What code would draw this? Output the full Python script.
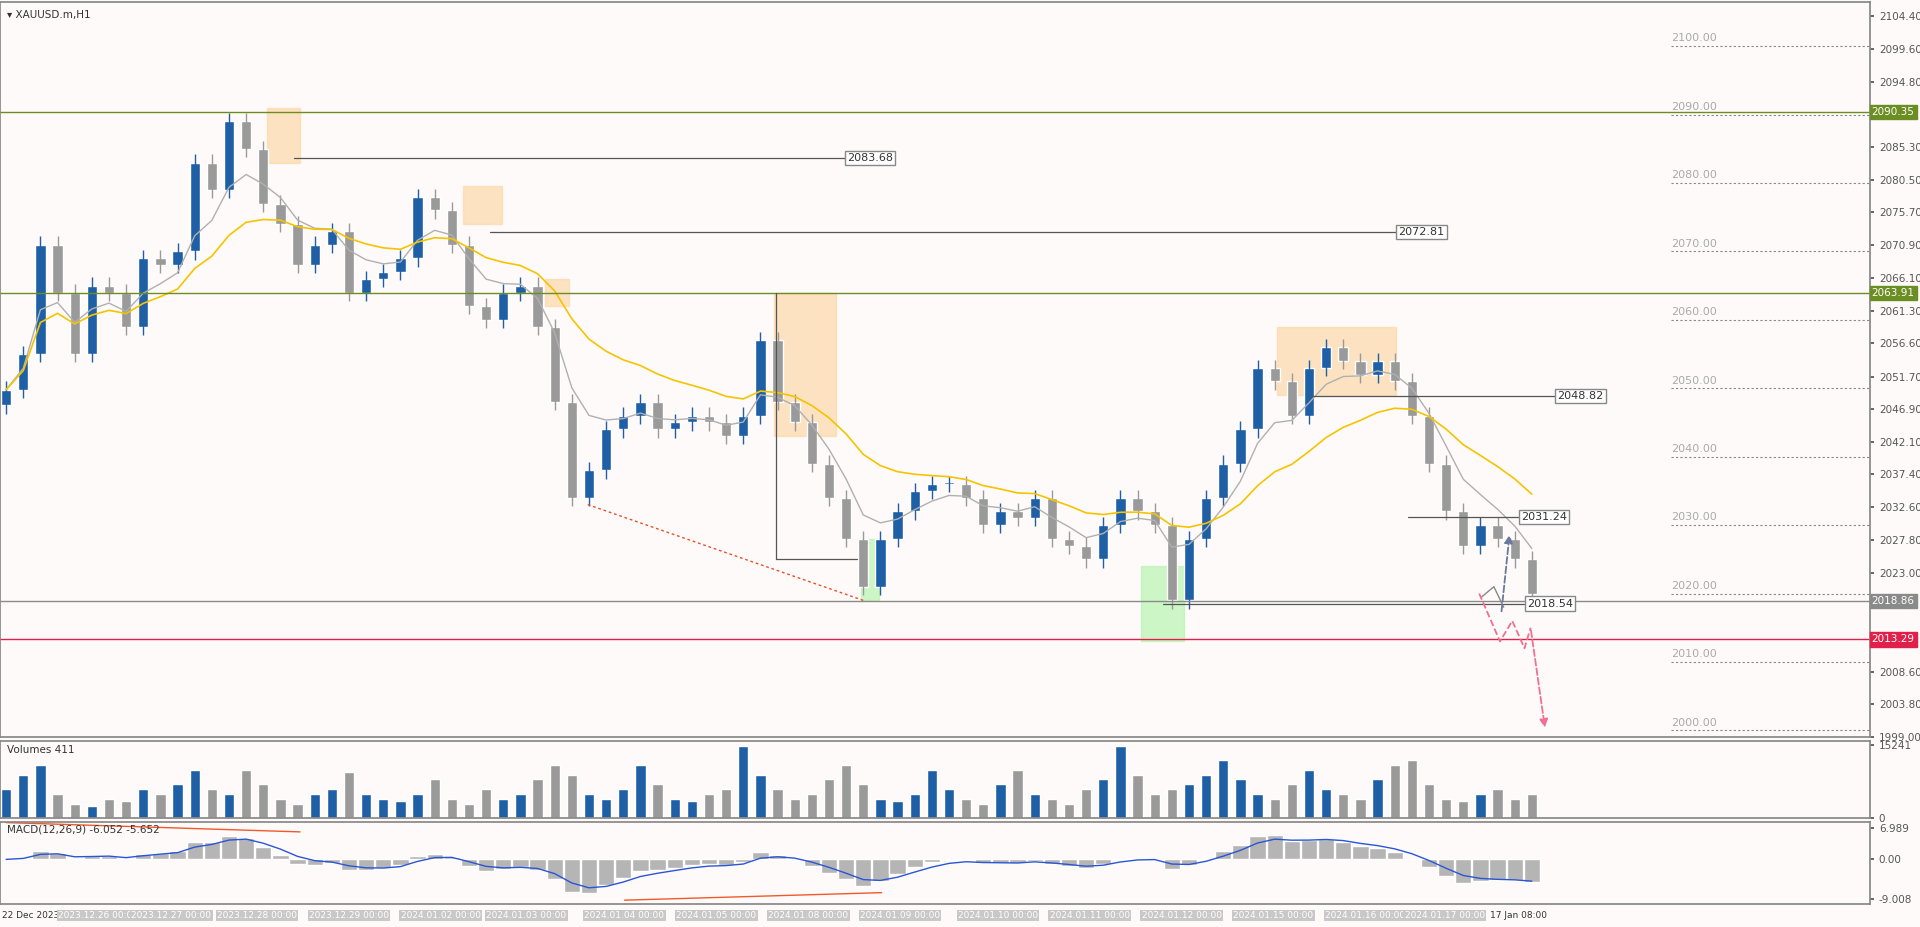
import numpy as np, pandas as pd, matplotlib
matplotlib.use("Agg")
import matplotlib.pyplot as plt, seaborn as sns
sns.set_theme(style="white")
plt.rcParams['font.family'] = ['DejaVu Sans']

closes = [2049.8,2055,2071,2064,2055,2065,2064,2059,2069,2068,2070,2083,2079,2089,2085,2077,2074,2068,2071,2073,
          2064,2066,2067,2069,2078,2076,2071,2062,2060,2064,2065,2059,2048,2034,2038,2044,2046,2048,2044,2045,
          2046,2045,2043,2046,2057,2048,2045,2039,2034,2028,2021,2028,2032,2035,2036,2036,2034,2030,2032,2031,
          2034,2028,2027,2025,2030,2034,2032,2030,2019,2028,2034,2039,2044,2053,2051,2046,2053,2056,2054,2052,
          2054,2051,2046,2039,2032,2027,2030,2028,2025,2020]
opens = [2047.5] + closes[:-1]
volumes = [6000,9000,11000,5000,3000,2500,4000,3500,6000,5000,7000,10000,6000,5000,10000,7000,4000,3000,5000,6000,
           9500,5000,4000,3500,5000,8000,4000,3000,6000,4000,5000,8000,11000,9000,5000,4000,6000,11000,7000,4000,
           3500,5000,6000,15000,9000,6000,4000,5000,8000,11000,7000,4000,3500,5000,10000,6000,4000,3000,7000,10000,
           5000,4000,3000,6000,8000,15000,9000,5000,6000,7000,9000,12000,8000,5000,4000,7000,10000,6000,5000,4000,
           8000,11000,12000,7000,4000,3500,5000,6000,4000,5000]
hlines = {"2090.35": (2090.35, "#6b8e23"), "2063.91": (2063.91, "#6b8e23"),
          "2018.86": (2018.86, "#8a8a8a"), "2013.29": (2013.29, "#e0204a")}
levels = [2083.68, 2072.81, 2048.82, 2031.24, 2018.54]
level_x = [(240, 720), (400, 1170), (1070, 1300), (1150, 1270), (950, 1275)]
axis_ticks = [2104.40,2099.60,2094.80,2085.30,2080.50,2075.70,2070.90,2066.10,2061.30,2056.60,2051.70,2046.90,
              2042.10,2037.40,2032.60,2027.80,2023.00,2008.60,2003.80,1999.00]
round_levels = [2100,2090,2080,2070,2060,2050,2040,2030,2020,2010,2000]
date_labels = ["22 Dec 2023","2023.12.26 00:00","2023.12.27 00:00","2023.12.28 00:00","2023.12.29 00:00",
               "2024.01.02 00:00","2024.01.03 00:00","2024.01.04 00:00","2024.01.05 00:00","2024.01.08 00:00",
               "2024.01.09 00:00","2024.01.10 00:00","2024.01.11 00:00","2024.01.12 00:00","2024.01.15 00:00",
               "2024.01.16 00:00","2024.01.17 00:00","17 Jan 08:00"]
date_px = [2,80,140,210,285,360,430,510,585,660,735,815,890,965,1040,1115,1180,1240]

BG = "#fffafa"
W = 1568.0
def px(x): return (x - 5) / 14.0
n = len(closes); idx = np.arange(n)
df = pd.DataFrame({"i": idx, "open": opens, "close": closes, "vol": volumes})
df["up"] = df.close >= df.open
s = pd.Series(closes)
ema_f = s.ewm(span=5).mean(); ema_s = s.ewm(span=14).mean()
macd = s.ewm(span=4).mean() - s.ewm(span=8).mean(); sig = macd.ewm(span=3).mean()

fig = plt.figure(figsize=(19.2, 9.27), dpi=100, facecolor=BG)
def fy(y0, y1): return [0.0, 1 - y1/757, 1527/W, (y1 - y0)/757]
ax = fig.add_axes(fy(2, 602)); axv = fig.add_axes(fy(605, 668)); axm = fig.add_axes(fy(671, 738))
xl = (px(0), px(1527))
for a in (ax, axv, axm):
    a.set_facecolor(BG); a.set_xlim(*xl); a.set_xticks([])
    a.yaxis.tick_right(); a.tick_params(axis='y', labelsize=7.5, colors="#555", length=3)
    for sp in a.spines.values(): sp.set_color("#888")

ax.set_ylim(1999.6, 2106.4)
ax.set_yticks(axis_ticks); ax.set_yticklabels([f"{t:.2f}" for t in axis_ticks])
col = np.where(df.up, "#1f5fa6", "#9a9a9a")
lo = np.minimum(df.open, df.close); hi = np.maximum(df.open, df.close)
ax.vlines(idx, lo - 1.2, hi + 1.2, color=col, lw=1)
ax.bar(idx, (hi - lo).clip(lower=0.3), bottom=lo, width=0.6, color=col)
sns.lineplot(x=idx, y=ema_f.values, ax=ax, color="#b0b0b0", lw=1)
sns.lineplot(x=idx, y=ema_s.values, ax=ax, color="#f5c400", lw=1.2)
for k, (v, c) in hlines.items():
    ax.axhline(v, color=c, lw=1)
    ax.text(1.001, v, k, transform=ax.get_yaxis_transform(), fontsize=7.5, color="white", va="center",
            bbox=dict(fc=c, ec=c, pad=1.5))
for v, (x0, x1) in zip(levels, level_x):
    ax.plot([px(x0), px(x1 - 30)], [v, v], color="#555", lw=0.9)
    ax.text(px(x1 - 28), v, f"{v:.2f}", fontsize=8, color="#333", va="center",
            bbox=dict(fc="white", ec="#888", pad=1.5))
for r in round_levels:
    ax.plot([px(1365), px(1527)], [r, r], color="#888", lw=0.8, ls=(0, (2, 2)))
    ax.text(px(1365), r + 0.4, f"{r:.2f}", fontsize=8, color="#aaa", va="bottom")
for (x0, x1, y0, y1, c) in [(218,245,2083,2091,"#fcd9a8"),(378,410,2074,2079.5,"#fcd9a8"),(445,465,2062,2066,"#fcd9a8"),
                            (632,683,2043,2064,"#fcd9a8"),(1043,1140,2049,2059,"#fcd9a8"),
                            (703,718,2019,2028,"#b8f5b0"),(932,967,2013,2024,"#b8f5b0")]:
    ax.add_patch(plt.Rectangle((px(x0), y0), px(x1) - px(x0), y1 - y0, color=c, alpha=0.7, zorder=0))
ax.plot([px(480), px(705)], [2033, 2019], color="#e8502a", ls=(0, (2, 2)), lw=1)
ax.plot([px(634), px(634), px(700)], [2064, 2025, 2025], color="#555", lw=0.9)
ax.plot([px(1210), px(1220), px(1228)], [2019.5, 2021, 2018], color="#888", lw=1)
ax.annotate("", xy=(px(1233), 2029), xytext=(px(1226), 2017), arrowprops=dict(arrowstyle="-|>", color="#6a7a9a", ls="--", lw=1.3))
ax.plot([px(1208), px(1225), px(1235), px(1245), px(1250)], [2020, 2013, 2016, 2012, 2015], color="#f07090", ls="--", lw=1.3)
ax.annotate("", xy=(px(1262), 2000), xytext=(px(1250), 2015), arrowprops=dict(arrowstyle="-|>", color="#f07090", ls="--", lw=1.3))
ax.text(0.004, 0.99, "▾ XAUUSD.m,H1", transform=ax.transAxes, fontsize=7.5, va="top", color="#333")

axv.bar(idx, df.vol, width=0.6, color=col)
axv.set_ylim(0, 16000); axv.set_yticks([0, 15241]); axv.set_yticklabels(["0", "15241"])
axv.text(0.004, 0.95, "Volumes 411", transform=axv.transAxes, fontsize=7.5, va="top", color="#333")

axm.bar(idx, macd, width=0.95, color="#b5b5b5")
sns.lineplot(x=idx, y=sig.values, ax=axm, color="#2a55d6", lw=1)
axm.set_ylim(-10, 8.5); axm.set_yticks([6.989, 0, -9.008]); axm.set_yticklabels(["6.989", "0.00", "-9.008"])
axm.plot([px(5), px(245)], [8.3, 6.2], color="#f05a28", lw=1)
axm.plot([px(510), px(720)], [-9.2, -7.5], color="#f05a28", lw=1)
axm.text(0.004, 0.97, "MACD(12,26,9) -6.052 -5.652", transform=axm.transAxes, fontsize=7.5, va="top", color="#333")

axd = fig.add_axes([0.0, 0.0, 1527/W, 19/757]); axd.set_facecolor(BG); axd.axis("off"); axd.set_xlim(*xl)
for lab, x in zip(date_labels, date_px):
    plain = lab[:2] in ("22", "17")
    axd.text(px(x), 0.5, lab, fontsize=6.5, ha="left" if lab[:2] == "22" else "center", va="center",
             color="#333" if plain else "white",
             bbox=None if plain else dict(fc="#c8c8c8", ec="none", pad=1))
fig.savefig("out.png", dpi=100, facecolor=BG)
